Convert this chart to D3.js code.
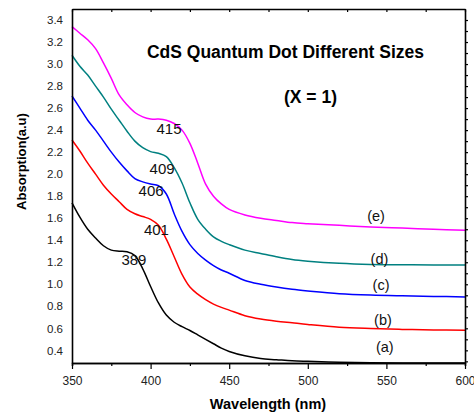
<!DOCTYPE html>
<html>
<head>
<meta charset="utf-8">
<script src="https://cdn.jsdelivr.net/npm/d3@7"></script>
<style>
  body { margin: 0; background: #fff; }
  svg { font-family: "Liberation Sans", Arial, sans-serif; }
</style>
</head>
<body>
<div id="chart"></div>
<script>
// wavelengths shared by every spectrum (nm)
const wavelength = [350, 355, 360, 365, 370, 375, 380, 385, 390, 395, 400, 405, 410, 415, 420,
  425, 430, 435, 440, 445, 450, 460, 470, 480, 490, 500, 520, 540, 560, 580, 600];

// absorption, one array per dot size
const series_a = [1.74, 1.61, 1.50, 1.42, 1.35, 1.31, 1.30, 1.295, 1.26, 1.14, 0.98, 0.83, 0.72, 0.655, 0.615,
  0.58, 0.54, 0.50, 0.46, 0.42, 0.39, 0.35, 0.325, 0.315, 0.305, 0.30, 0.292, 0.288, 0.286, 0.285, 0.285];
const series_b = [2.31, 2.21, 2.10, 2.00, 1.90, 1.82, 1.75, 1.68, 1.64, 1.615, 1.59, 1.535, 1.41, 1.25, 1.09,
  0.975, 0.91, 0.86, 0.82, 0.79, 0.765, 0.715, 0.685, 0.665, 0.65, 0.635, 0.61, 0.598, 0.59, 0.585, 0.582];
const series_c = [2.71, 2.60, 2.49, 2.40, 2.30, 2.20, 2.11, 2.03, 1.96, 1.93, 1.91, 1.895, 1.82, 1.64, 1.48,
  1.36, 1.28, 1.22, 1.17, 1.13, 1.10, 1.035, 1.00, 0.975, 0.955, 0.94, 0.915, 0.902, 0.895, 0.89, 0.885];
const series_d = [3.08, 2.98, 2.90, 2.80, 2.70, 2.59, 2.49, 2.39, 2.30, 2.24, 2.205, 2.19, 2.16, 2.06, 1.92,
  1.74, 1.59, 1.50, 1.43, 1.39, 1.36, 1.31, 1.28, 1.25, 1.225, 1.21, 1.19, 1.18, 1.178, 1.176, 1.175];
const series_e = [3.34, 3.28, 3.22, 3.14, 3.01, 2.87, 2.72, 2.63, 2.56, 2.52, 2.50, 2.50, 2.49, 2.46, 2.40,
  2.28, 2.10, 1.91, 1.80, 1.73, 1.68, 1.63, 1.60, 1.58, 1.56, 1.55, 1.535, 1.52, 1.51, 1.50, 1.49];

const series_names = ['(a)', '(b)', '(c)', '(d)', '(e)'];
const series_colors = ['#000000', '#ff0000', '#0000ff', '#008080', '#ff00ff'];

// peak annotations: wavelength text and where it sits (nm, absorption)
const peak_labels = ['389', '401', '406', '409', '415'];
const peak_nm = [389.4, 403.7, 400.3, 407.3, 411.7];
const peak_abs = [1.227, 1.495, 1.855, 2.055, 2.41];

// curve letter positions (nm, absorption)
const name_nm = [549, 547.8, 546.6, 545.6, 543.4];
const name_abs = [0.432, 0.682, 0.995, 1.234, 1.62];

const x_ticks = [350, 400, 450, 500, 550, 600];
const x_minor = [375, 425, 475, 525, 575];
const y_ticks = [0.4, 0.6, 0.8, 1.0, 1.2, 1.4, 1.6, 1.8, 2.0, 2.2, 2.4, 2.6, 2.8, 3.0, 3.2, 3.4];

const figure_width = 474;
const figure_height = 415;
const margin = {top: 9, right: 9, bottom: 52, left: 72};
const axes_width = figure_width - margin.left - margin.right;
const axes_height = figure_height - margin.top - margin.bottom;

const svg = d3.select('#chart')
  .append('svg')
    .attr('width', figure_width)
    .attr('height', figure_height)
  .append('g')
    .attr('transform', 'translate(' + margin.left + ',' + margin.top + ')');

const x = d3.scaleLinear()
  .domain([350, 600])
  .range([0, axes_width]);

const y = d3.scaleLinear()
  .domain([0.285, 3.5])
  .range([axes_height, 0]);

// spectra
const line = d3.line()
  .x(d => x(d[0]))
  .y(d => y(d[1]))
  .curve(d3.curveCatmullRom.alpha(0.5));

[series_a, series_b, series_c, series_d, series_e].forEach((values, i) => {
  svg.append('path')
    .datum(d3.zip(wavelength, values))
    .attr('fill', 'none')
    .attr('stroke', series_colors[i])
    .attr('stroke-width', 1.5)
    .attr('d', line);
});

// axes
function style_axis(g, font_size)
{
  g.select('.domain').attr('stroke', '#000').attr('stroke-width', 1.6);
  g.selectAll('.tick line').attr('stroke', '#000').attr('stroke-width', 1.2);
  g.selectAll('.tick text')
    .attr('fill', '#222')
    .style('font-size', font_size + 'px')
    .style('font-family', '"Liberation Sans", Arial, sans-serif');
}

svg.append('g')
  .attr('transform', 'translate(0,' + axes_height + ')')
  .call(d3.axisBottom(x).tickValues(x_minor).tickSize(3).tickFormat(''))
  .call(g => style_axis(g, 12));

svg.append('g')
  .attr('transform', 'translate(0,' + axes_height + ')')
  .call(d3.axisBottom(x).tickValues(x_ticks).tickSize(6).tickSizeOuter(0).tickPadding(7).tickFormat(d3.format('d')))
  .call(g => style_axis(g, 12));

svg.append('g')
  .call(d3.axisTop(x).tickValues(x_ticks.concat(x_minor)).tickSize(-3).tickSizeOuter(0).tickFormat(''))
  .call(g => style_axis(g, 12));

svg.append('g')
  .call(d3.axisLeft(y).tickValues(y_ticks).tickSize(0).tickPadding(9).tickFormat(d3.format('.1f')))
  .call(g => style_axis(g, 11.5));

svg.append('g')
  .attr('transform', 'translate(' + axes_width + ',0)')
  .call(d3.axisRight(y).tickValues(d3.range(3, 35).map(v => v / 10)).tickSize(3).tickSizeOuter(0).tickFormat(''))
  .call(g => style_axis(g, 12));

// axis titles
svg.append('text')
  .attr('x', x(350) + 196)
  .attr('y', axes_height + 46)
  .attr('text-anchor', 'middle')
  .style('font-size', '14.5px')
  .style('font-weight', 'bold')
  .text('Wavelength (nm)');

svg.append('text')
  .attr('transform', 'rotate(-90)')
  .attr('x', -(161.5 - margin.top))
  .attr('y', -margin.left + 26)
  .attr('text-anchor', 'middle')
  .style('font-size', '13px')
  .style('font-weight', 'bold')
  .text('Absorption(a.u)');

// titles inside the plot
svg.append('text')
  .attr('x', 213.5)
  .attr('y', 49)
  .attr('text-anchor', 'middle')
  .style('font-size', '17.5px')
  .style('font-weight', 'bold')
  .text('CdS Quantum Dot Different Sizes');

svg.append('text')
  .attr('x', 238.5)
  .attr('y', 94)
  .attr('text-anchor', 'middle')
  .style('font-size', '17.5px')
  .style('font-weight', 'bold')
  .text('(X = 1)');

// peak annotations
peak_labels.forEach((label, i) => {
  svg.append('text')
    .attr('x', x(peak_nm[i]))
    .attr('y', y(peak_abs[i]))
    .attr('dy', '0.36em')
    .attr('text-anchor', 'middle')
    .attr('fill', '#111')
    .style('font-size', '15px')
    .text(label);
});

series_names.forEach((name, i) => {
  svg.append('text')
    .attr('x', x(name_nm[i]))
    .attr('y', y(name_abs[i]))
    .attr('dy', '0.36em')
    .attr('text-anchor', 'middle')
    .attr('fill', '#111')
    .style('font-size', '14.5px')
    .text(name);
});
</script>
</body>
</html>
